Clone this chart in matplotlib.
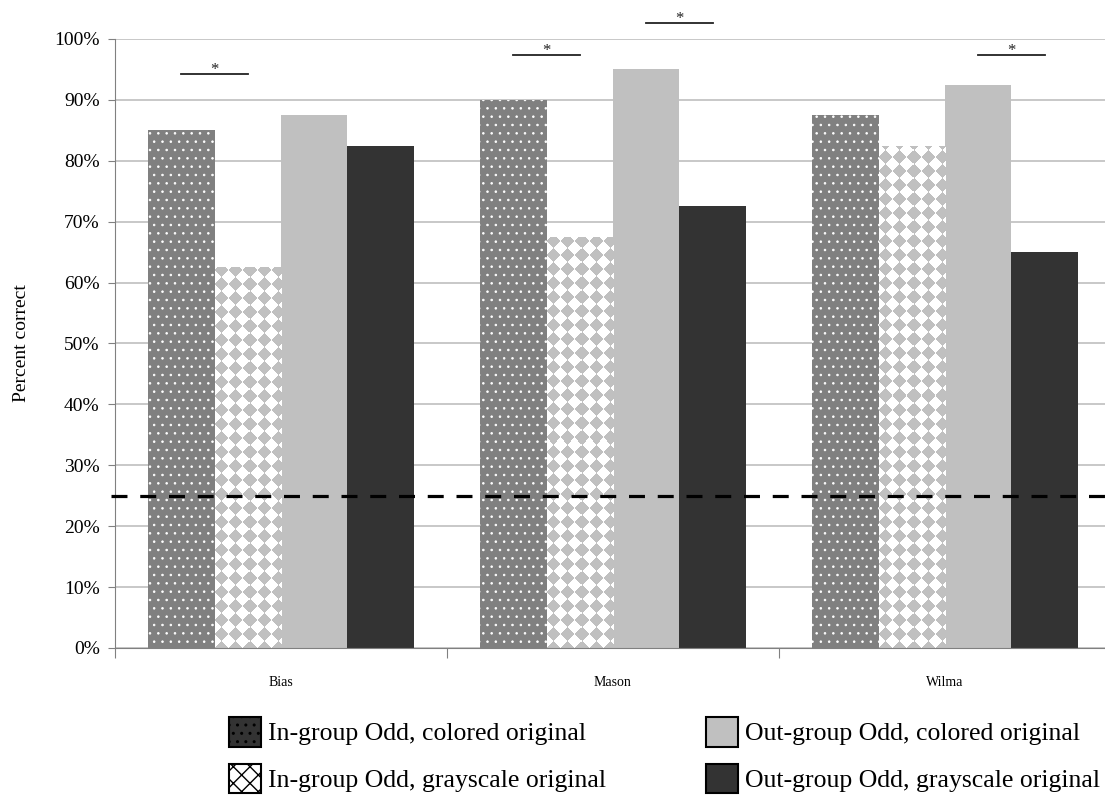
import numpy as np
import matplotlib.pyplot as plt
from matplotlib.ticker import FuncFormatter

plt.rcParams["font.family"] = ["Liberation Serif", "DejaVu Serif"]

categories = ["Bias", "Mason", "Wilma"]
series = [
    "In-group Odd, colored original",
    "In-group Odd, grayscale original",
    "Out-group Odd, colored original",
    "Out-group Odd, grayscale original",
]
in_colored = [85.0, 90.0, 87.5]
in_gray = [62.5, 67.5, 82.5]
out_colored = [87.5, 95.0, 92.5]
out_gray = [82.5, 72.5, 65.0]
chance_level = 25.0
# (category index, first bar, second bar, height of bracket)
significance = [(0, 0, 1, 94.3), (1, 0, 1, 97.4), (1, 2, 3, 102.6), (2, 2, 3, 97.4)]

values = [in_colored, in_gray, out_colored, out_gray]
faces = ["#808080", "white", "#c0c0c0", "#333333"]
hatch_cols = ["white", "#c0c0c0", "#c0c0c0", "#333333"]
hatches = ["..", "xx", None, None]
hatch_lw = [0.6, 3.0, 1.0, 1.0]

fig = plt.figure(figsize=(11.05, 7.95), dpi=100)
ax = fig.add_axes([0.104, 0.185, 0.9014, 0.766])

x = np.arange(len(categories))
width = 0.2
offsets = (np.arange(4) - 1.5) * width

handles = []
for i in range(4):
    plt.rcParams["hatch.linewidth"] = hatch_lw[i]
    bars = ax.bar(x + offsets[i], values[i], width, color=faces[i],
                  edgecolor=hatch_cols[i], linewidth=0, hatch=hatches[i],
                  label=series[i], zorder=2)
    handles.append(bars)

ax.set_xlim(-0.5, 2.5)
ax.set_ylim(0, 100)
ax.autoscale(False)

# diamond checkerboard fill for the grayscale in-group bars
d = 14
for rect in handles[1]:
    x0, y0 = rect.get_x(), rect.get_y()
    x1, y1 = x0 + rect.get_width(), y0 + rect.get_height()
    p0 = ax.transData.transform((x0, y0))
    p1 = ax.transData.transform((x1, y1))
    w_px = int(round(p1[0] - p0[0]))
    h_px = int(round(p1[1] - p0[1]))
    xx, yy = np.meshgrid(np.arange(w_px) + 0.5, np.arange(h_px) + 0.5)
    gray = (np.floor((xx + yy) / d) + np.floor((xx - yy) / d)) % 2 == 0
    img = np.where(gray, 192, 255).astype(np.uint8)
    img = np.dstack([img, img, img])
    im = ax.imshow(img, extent=(x0, x1, y0, y1), origin="lower", aspect="auto",
                   interpolation="nearest", zorder=2.1)
    im.set_clip_path(rect)

ax.set_yticks(np.arange(0, 101, 10))
ax.yaxis.set_major_formatter(FuncFormatter(lambda v, p: "%d%%" % v))
ax.grid(axis="y", color="#bfbfbf", linewidth=1.2, zorder=0)
ax.set_axisbelow(True)

ax.set_xticks([-0.5, 0.5, 1.5, 2.5])
ax.set_xticklabels([])
ax.set_xticks(x, minor=True)
ax.set_xticklabels(categories, minor=True, fontsize=10)
ax.tick_params(axis="x", which="major", length=7, color="#808080", direction="out")
ax.tick_params(axis="x", which="minor", length=0, pad=20)
ax.tick_params(axis="y", length=5, color="#808080", labelsize=14, pad=6)

for s in ["top", "right"]:
    ax.spines[s].set_visible(False)
ax.spines["left"].set_color("#808080")
ax.spines["bottom"].set_color("#808080")

ax.set_ylabel("Percent correct", fontsize=14)
ax.yaxis.set_label_coords(-0.085, 0.5)

ax.axhline(chance_level, xmin=-0.004, xmax=1.0, color="black", linewidth=2.3,
           dashes=(5, 4), clip_on=False, zorder=4)

for g, a, b, h in significance:
    xa = x[g] + offsets[a]
    xb = x[g] + offsets[b]
    ax.plot([xa, xb], [h, h], color="#222222", linewidth=1.3, clip_on=False, zorder=5)
    ax.annotate("*", xy=((xa + xb) / 2, h), xytext=(0, -3), textcoords="offset points",
                ha="center", va="bottom", fontsize=12, color="#222222",
                annotation_clip=False)

leg = fig.legend(handles=handles, labels=series, loc="upper left", ncol=2,
                 bbox_to_anchor=(229 / 1105, 1 - 717 / 795), frameon=False,
                 fontsize=18.5, handlelength=1.25, handleheight=1.4,
                 handletextpad=0.27, columnspacing=3.9, labelspacing=0.66,
                 borderpad=0, borderaxespad=0)
leg_patches = leg.get_patches()
for p in leg_patches:
    p.set_edgecolor("black")
    p.set_linewidth(1.5)
leg_patches[0].set_facecolor("#333333")

fig.savefig("out.png", dpi=100)
